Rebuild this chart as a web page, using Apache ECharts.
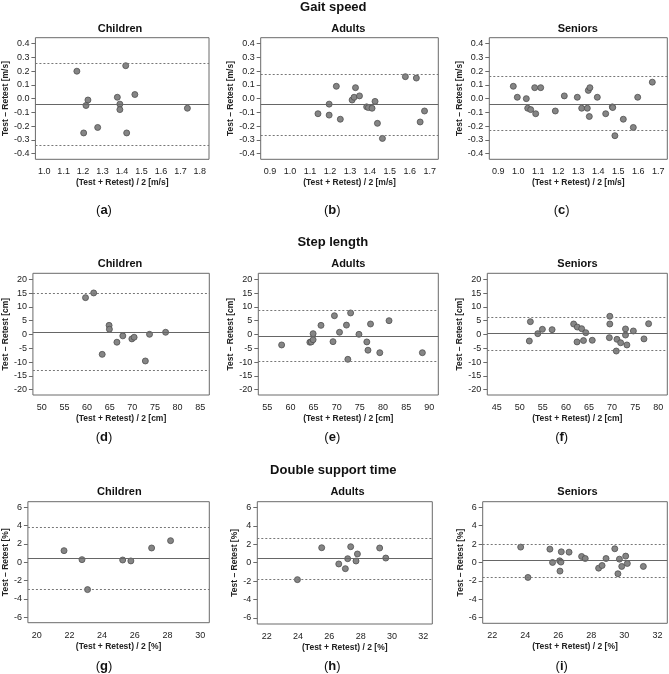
<!DOCTYPE html>
<html><head><meta charset="utf-8">
<script src="https://cdn.jsdelivr.net/npm/echarts@6/dist/echarts.min.js"></script>
<style>html,body{margin:0;padding:0;background:#fff}#c{width:669px;height:674px}</style>
</head><body><div id="c"></div>
<script>
// ---- data (x = mean of test & retest, y = test - retest) ----
const gaitChildren = [[1.168,0.20],[1.419,0.24],[1.225,-0.01],[1.215,-0.05],[1.203,-0.25],[1.275,-0.21],[1.376,0.01],[1.389,-0.04],[1.389,-0.08],[1.466,0.03],[1.424,-0.25],[1.736,-0.07]];
const gaitAdults = [[1.140,-0.11],[1.196,-0.04],[1.196,-0.12],[1.232,0.09],[1.252,-0.15],[1.311,-0.01],[1.321,0.01],[1.328,0.08],[1.348,0.02],[1.384,-0.06],[1.393,-0.065],[1.411,-0.07],[1.426,-0.02],[1.438,-0.18],[1.463,-0.29],[1.578,0.16],[1.633,0.15],[1.652,-0.17],[1.674,-0.09]];
const gaitSeniors = [[0.975,0.09],[0.995,0.01],[1.040,0.00],[1.047,-0.07],[1.062,-0.08],[1.082,0.08],[1.087,-0.11],[1.112,0.08],[1.185,-0.09],[1.230,0.02],[1.295,0.01],[1.317,-0.07],[1.345,-0.07],[1.350,0.06],[1.358,0.08],[1.355,-0.13],[1.395,0.01],[1.437,-0.11],[1.470,-0.06],[1.472,-0.065],[1.483,-0.27],[1.525,-0.15],[1.575,-0.21],[1.597,0.01],[1.670,0.12]];
const stepChildren = [[59.67,13.35],[61.47,15.05],[64.87,3.3],[64.94,1.9],[63.35,-7.2],[66.6,-2.8],[67.9,-0.5],[69.9,-1.6],[70.4,-1.0],[72.88,-9.6],[73.8,0.06],[77.35,0.8]];
const stepAdults = [[58.1,-3.8],[64.2,-2.8],[64.5,-2.7],[64.9,0.3],[64.9,-1.9],[66.6,3.3],[69.2,-2.6],[69.5,6.8],[70.6,0.8],[72.1,3.4],[72.4,-9.0],[73.0,7.8],[74.8,0.06],[76.5,-2.7],[76.75,-5.7],[77.3,3.8],[79.3,-6.6],[81.3,5.0],[88.5,-6.6]];
const stepSeniors = [[52.07,-2.36],[52.3,4.65],[53.9,0.3],[54.9,1.87],[57.0,1.75],[61.67,3.8],[62.45,2.7],[62.4,-2.7],[63.4,2.1],[63.8,-2.2],[64.3,0.66],[65.7,-2.1],[69.5,6.6],[69.5,3.8],[69.4,-1.15],[71.05,-1.75],[70.9,-6.0],[71.85,-3.0],[72.9,2.0],[72.9,-0.2],[73.2,-3.8],[74.6,1.27],[76.9,-1.6],[77.9,3.9]];
const dstChildren = [[21.67,1.27],[22.77,0.29],[23.11,-2.98],[25.26,0.25],[25.76,0.15],[27.03,1.56],[28.19,2.36]];
const dstAdults = [[23.96,-1.84],[25.51,1.62],[26.6,-0.14],[27.02,-0.65],[27.17,0.43],[27.36,1.73],[27.7,0.18],[27.79,0.94],[29.21,1.59],[29.6,0.5]];
const dstSeniors = [[23.72,1.67],[24.16,-1.63],[25.49,1.45],[25.65,0.0],[26.08,0.18],[26.18,1.16],[26.16,0.04],[26.1,-0.94],[26.65,1.12],[27.41,0.65],[27.63,0.43],[28.44,-0.62],[28.65,-0.33],[28.89,0.43],[29.42,1.49],[29.61,-1.23],[29.7,0.36],[29.84,-0.43],[30.08,0.69],[30.18,-0.11],[31.15,-0.43]];

// mean difference, upper and lower limits of agreement
const gaitChildrenLines = [-0.041, 0.262, -0.339];
const gaitAdultsLines = [-0.041, 0.177, -0.267];
const gaitSeniorsLines = [-0.041, 0.162, -0.228];
const stepChildrenLines = [0.9, 15.0, -13.0];
const stepAdultsLines = [-0.66, 8.76, -9.85];
const stepSeniorsLines = [0.3, 6.3, -5.86];
const dstChildrenLines = [0.44, 3.82, -2.98];
const dstAdultsLines = [0.43, 2.6, -1.8];
const dstSeniorsLines = [0.22, 1.96, -1.6];

// tick labels
const gaitYTicks = [-0.4,-0.3,-0.2,-0.1,0,0.1,0.2,0.3,0.4];
const stepYTicks = [-20,-15,-10,-5,0,5,10,15,20];
const dstYTicks = [-6,-4,-2,0,2,4,6];
const gaitChildrenXTicks = [1.0,1.1,1.2,1.3,1.4,1.5,1.6,1.7,1.8];
const gaitAdultsXTicks = [0.9,1.0,1.1,1.2,1.3,1.4,1.5,1.6,1.7];
const gaitSeniorsXTicks = [0.9,1.0,1.1,1.2,1.3,1.4,1.5,1.6,1.7];
const stepChildrenXTicks = [50,55,60,65,70,75,80,85];
const stepAdultsXTicks = [55,60,65,70,75,80,85,90];
const stepSeniorsXTicks = [45,50,55,60,65,70,75,80];
const dstChildrenXTicks = [20,22,24,26,28,30];
const dstAdultsXTicks = [22,24,26,28,30,32];
const dstSeniorsXTicks = [22,24,26,28,30,32];

const sectionTitles = ['Gait speed','Step length','Double support time'];
const groupNames = ['Children','Adults','Seniors'];
const panelLetters = ['a','b','c','d','e','f','g','h','i'];
const xNames = ['(Test + Retest) / 2 [m/s]','(Test + Retest) / 2 [cm]','(Test + Retest) / 2 [%]'];
const yNames = ['Test \u2013 Retest [m/s]','Test \u2013 Retest [cm]','Test \u2013 Retest [%]'];

// ---- layout ----
const FONT = "'Liberation Sans', Arial, sans-serif";
const panels = [
  {d:gaitChildren, l:gaitChildrenLines, xr:[0.955,1.847], yr:[-0.442,0.444], xt:gaitChildrenXTicks, yt:gaitYTicks, dec:1, row:0, g:[31.7,37.7,177.3,121.6], yg:23, sub:[120,28.5], lab:[104,210]},
  {d:gaitAdults, l:gaitAdultsLines, xr:[0.853,1.743], yr:[-0.442,0.444], xt:gaitAdultsXTicks, yt:gaitYTicks, dec:1, row:0, g:[260.7,37.7,177.6,121.6], yg:23, sub:[348.3,28.5], lab:[332.3,210]},
  {d:gaitSeniors, l:gaitSeniorsLines, xr:[0.855,1.745], yr:[-0.442,0.444], xt:gaitSeniorsXTicks, yt:gaitYTicks, dec:1, row:0, g:[489.3,37.7,178,121.6], yg:23, sub:[577.8,28.5], lab:[561.7,210]},
  {d:stepChildren, l:stepChildrenLines, xr:[48.05,87.0], yr:[-21.93,22.17], xt:stepChildrenXTicks, yt:stepYTicks, dec:0, row:1, g:[29.3,273.3,180,121.7], yg:20.5, sub:[120,264.3], lab:[104,437.3]},
  {d:stepAdults, l:stepAdultsLines, xr:[53.06,91.94], yr:[-21.93,22.17], xt:stepAdultsXTicks, yt:stepYTicks, dec:0, row:1, g:[258.3,273.3,180,121.7], yg:20.5, sub:[348.3,264.3], lab:[332.3,437.3]},
  {d:stepSeniors, l:stepSeniorsLines, xr:[42.97,81.95], yr:[-21.93,22.17], xt:stepSeniorsXTicks, yt:stepYTicks, dec:0, row:1, g:[487.3,273.3,180,121.7], yg:21, sub:[577.5,264.3], lab:[561.7,437.3]},
  {d:dstChildren, l:dstChildrenLines, xr:[19.46,30.56], yr:[-6.59,6.61], xt:dstChildrenXTicks, yt:dstYTicks, dec:0, row:2, g:[25,501.7,184.3,121], yg:16.5, sub:[119.3,492.3], lab:[104,666]},
  {d:dstAdults, l:dstAdultsLines, xr:[21.4,32.57], yr:[-6.65,6.61], xt:dstAdultsXTicks, yt:dstYTicks, dec:0, row:2, g:[257.3,501.7,175,122.3], yg:16, sub:[347.5,492.3], lab:[332.3,666]},
  {d:dstSeniors, l:dstSeniorsLines, xr:[21.42,32.6], yr:[-6.62,6.61], xt:dstSeniorsXTicks, yt:dstYTicks, dec:0, row:2, g:[482.7,501.7,184.6,121.6], yg:16.5, sub:[577.5,492.3], lab:[561.7,666]}
];
const titlePos = [[333.3,7.5],[332.8,242.7],[333.3,470.7]];

const grids = [], xAxes = [], yAxes = [], series = [], graphics = [];
const lab = {fontFamily:FONT, fontSize:9, color:'#222'};
const nameStyle = {fontFamily:FONT, fontSize:8.5, fontWeight:'bold', color:'#222'};
panels.forEach((p,i)=>{
  grids.push({left:p.g[0], top:p.g[1], width:p.g[2], height:p.g[3], show:true, borderColor:'#6a6a6a', borderWidth:1, backgroundColor:'transparent', containLabel:false});
  const fmt = v => Number(v).toFixed(p.dec);
  xAxes.push({type:'value', gridIndex:i, min:p.xr[0], max:p.xr[1], splitLine:{show:false},
    axisLine:{show:false}, axisTick:{show:false},
    axisLabel:{customValues:p.xt, formatter:fmt, margin:8, ...lab, showMinLabel:true, showMaxLabel:true},
    name:xNames[p.row], nameLocation:'middle', nameGap:19, nameTextStyle:nameStyle});
  yAxes.push({type:'value', gridIndex:i, min:p.yr[0], max:p.yr[1], splitLine:{show:false},
    axisLine:{show:false},
    axisTick:{show:true, customValues:p.yt, length:4, inside:false, lineStyle:{color:'#6a6a6a', width:1}},
    axisLabel:{customValues:p.yt, formatter:fmt, margin:6, ...lab, showMinLabel:true, showMaxLabel:true},
    name:yNames[p.row], nameLocation:'middle', nameGap:p.yg, nameTextStyle:nameStyle});
  series.push({type:'scatter', xAxisIndex:i, yAxisIndex:i, data:p.d, symbol:'circle', symbolSize:6,
    itemStyle:{color:'#858585', borderColor:'#4f4f4f', borderWidth:0.8, opacity:1}, silent:true,
    markLine:{silent:true, symbol:['none','none'], label:{show:false}, animation:false,
      data:[
        {yAxis:p.l[0], lineStyle:{color:'#666', width:1, type:'solid'}},
        {yAxis:p.l[1], lineStyle:{color:'#777', width:1, type:[2,2]}},
        {yAxis:p.l[2], lineStyle:{color:'#777', width:1, type:[2,2]}}
      ]}});
  graphics.push({type:'text', x:p.sub[0], y:p.sub[1], style:{text:groupNames[i%3], font:"bold 11px "+FONT, fill:'#111', align:'center', verticalAlign:'middle'}});
  graphics.push({type:'text', x:p.lab[0], y:p.lab[1], style:{text:'{n|(}{b|'+panelLetters[i]+'}{n|)}', align:'center', verticalAlign:'middle',
    rich:{n:{fontFamily:FONT, fontSize:13, fill:'#111'}, b:{fontFamily:FONT, fontSize:13, fontWeight:'bold', fill:'#111'}}}});
});
titlePos.forEach((t,r)=>{
  graphics.push({type:'text', x:t[0], y:t[1], style:{text:sectionTitles[r], font:"bold 13px "+FONT, fill:'#111', align:'center', verticalAlign:'middle'}});
});

const chart = echarts.init(document.getElementById('c'), null, {renderer:'canvas'});
chart.setOption({animation:false, backgroundColor:'#fff', grid:grids, xAxis:xAxes, yAxis:yAxes, series:series, graphic:graphics});
</script></body></html>
